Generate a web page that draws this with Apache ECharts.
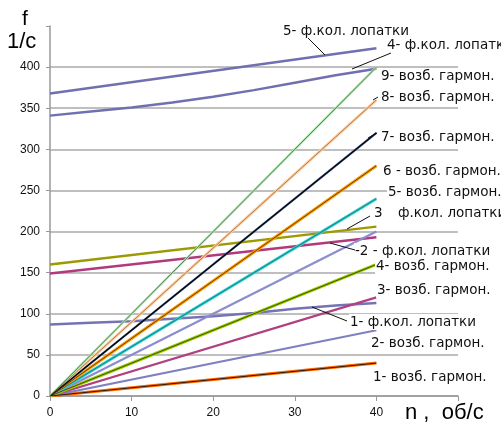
<!DOCTYPE html>
<html>
<head>
<meta charset="utf-8">
<script src="https://cdn.jsdelivr.net/npm/echarts@6/dist/echarts.min.js"></script>
<style>html,body{margin:0;padding:0;background:#fff}#c{width:501px;height:424px}</style>
</head>
<body>
<div id="c"></div>
<script>
// ---- data ----
const xTicks = [0, 10, 20, 30, 40];
const yTicks = [0, 50, 100, 150, 200, 250, 300, 350, 400];
// harmonic (возб. гармон.) lines: value at n = 0 and n = 40
const harmN = [0, 40];
const harm1 = [0, 40];
const harm2 = [0, 80];
const harm3 = [0, 120];
const harm4 = [0, 160];
const harm5 = [0, 200];
const harm6 = [0, 240];
const harm7 = [0, 280];
const harm8 = [0, 320];
const harm9 = [0, 360];
const harm10 = [0, 400];
// blade natural frequency (ф.кол. лопатки) lines
const bladeN = [0, 5, 10, 15, 20, 25, 30, 35, 40];
const blade1 = [87, 89, 91, 94, 97, 101, 106, 110, 113];
const blade4 = [341, 346, 351, 357, 364, 372, 381, 390, 398];
const bladeN2 = [0, 40];
const blade2 = [149, 193];
const blade3 = [160, 206];
const blade5 = [368, 423];

const labels = [
  ['5- ф.кол. лопатки', 282, 31],
  ['4- ф.кол. лопатки', 386, 45],
  ['9- возб. гармон.', 380, 76],
  ['8- возб. гармон.', 380, 97],
  ['7- возб. гармон.', 380, 137],
  ['6 - возб. гармон.', 382, 171],
  ['5- возб. гармон.', 387, 192],
  ['3', 373, 213],
  ['ф.кол. лопатки', 397, 213],
  ['-2 - ф.кол. лопатки', 354, 251],
  ['4- возб. гармон.', 375, 266],
  ['3- возб. гармон.', 376, 290],
  ['1- ф.кол. лопатки', 349, 322],
  ['2- возб. гармон.', 370, 343],
  ['1- возб. гармон.', 372, 377]
];
const leaders = [
  [308, 38, 325, 55],
  [391, 53, 352, 69],
  [373, 100, 378, 97],
  [368, 138, 377, 133],
  [370, 216, 347, 229],
  [330, 243, 355, 250],
  [312, 307, 347, 321]
];

function pairs(xs, ys) { return xs.map((x, i) => [x, ys[i]]); }

function line(name, xs, ys, color, width, z) {
  return {
    name: name, type: 'line', data: pairs(xs, ys), showSymbol: false, symbol: 'none',
    lineStyle: { color: color, width: width }, z: z || 2, silent: true, animation: false
  };
}

const series = [
  line('b1', bladeN, blade1, '#7474b4', 2.5),
  line('b2', bladeN2, blade2, '#b03a7c', 2.5),
  line('b3', bladeN2, blade3, '#9c9a00', 2.5),
  line('b4', bladeN, blade4, '#7070b0', 2.5),
  line('b5', bladeN2, blade5, '#7070b0', 2.5),
  line('h1', harmN, harm1, '#ff6a00', 3, 3),
  line('h1k', harmN, harm1, '#000000', 0.8, 4),
  line('h2', harmN, harm2, '#8080c0', 2.2, 3),
  line('h3', harmN, harm3, '#b0407f', 2.2, 3),
  line('h4', harmN, harm4, '#99cc00', 3, 3),
  line('h4k', harmN, harm4, '#202000', 0.7, 4),
  line('h5', harmN, harm5, '#8c8cd0', 2.2, 3),
  line('h6', harmN, harm6, '#33d0d0', 3, 3),
  line('h6k', harmN, harm6, '#004848', 0.6, 4),
  line('h7', harmN, harm7, '#ff9900', 3, 3),
  line('h7k', harmN, harm7, '#302000', 0.7, 4),
  line('h8', harmN, harm8, '#3a5080', 2.2, 3),
  line('h8k', harmN, harm8, '#000000', 1.1, 4),
  line('h9', harmN, harm9, '#ffcc9e', 3, 3),
  line('h9k', harmN, harm9, '#8a5a30', 0.7, 4),
  line('h10', harmN, harm10, '#b0e4b0', 2.4, 3),
  line('h10k', harmN, harm10, '#2e5a2e', 0.7, 4)
];

const fontFam = '"Liberation Sans", Arial, sans-serif';
const lblFam = '"DejaVu Sans", Verdana, sans-serif';
const graphic = [];
labels.forEach(l => {
  graphic.push({
    type: 'text', x: l[1], y: l[2], z: 50,
    style: { text: l[0], fill: '#111', font: '13.5px ' + lblFam, verticalAlign: 'middle',
      backgroundColor: '#fff', padding: [1, 1, 1, 1] }
  });
});
leaders.forEach(s => {
  graphic.push({ type: 'line', z: 51, shape: { x1: s[0], y1: s[1], x2: s[2], y2: s[3] },
    style: { stroke: '#111', lineWidth: 1 } });
});
graphic.push({ type: 'text', x: 22, y: 19, z: 50,
  style: { text: 'f', fill: '#000', font: '21px ' + fontFam, verticalAlign: 'middle' } });
graphic.push({ type: 'text', x: 7, y: 42, z: 50,
  style: { text: '1/с', fill: '#000', font: '22px ' + fontFam, verticalAlign: 'middle' } });
graphic.push({ type: 'text', x: 405, y: 413, z: 50,
  style: { text: 'n ,  об/с', fill: '#000', font: '22px ' + fontFam, verticalAlign: 'middle' } });

const splitColors = yTicks.map(() => '#aaaaaa').concat(['rgba(0,0,0,0)']);

const chart = echarts.init(document.getElementById('c'), null, { renderer: 'canvas' });
chart.setOption({
  animation: false,
  backgroundColor: '#fff',
  grid: { left: 50, right: 43, top: 26, bottom: 28, containLabel: false },
  xAxis: {
    type: 'value', min: 0, max: 50, interval: 10,
    axisLine: { show: true, lineStyle: { color: '#999', width: 1.5 } },
    axisTick: { show: true, length: 5, lineStyle: { color: '#999' } },
    axisLabel: { color: '#111', fontSize: 12, fontFamily: fontFam, margin: 11,
      formatter: v => xTicks.indexOf(v) >= 0 ? String(v) : '' },
    splitLine: { show: false }
  },
  yAxis: {
    type: 'value', min: 0, max: 450, interval: 50,
    axisLine: { show: true, lineStyle: { color: '#999', width: 1.5 } },
    axisTick: { show: true, length: 4, lineStyle: { color: '#999' } },
    axisLabel: { color: '#111', fontSize: 12, fontFamily: fontFam, margin: 10,
      formatter: v => yTicks.indexOf(v) >= 0 ? String(v) : '' },
    splitLine: { show: true, lineStyle: { color: splitColors, width: 1.5 } }
  },
  series: series,
  graphic: graphic
});
</script>
</body>
</html>
